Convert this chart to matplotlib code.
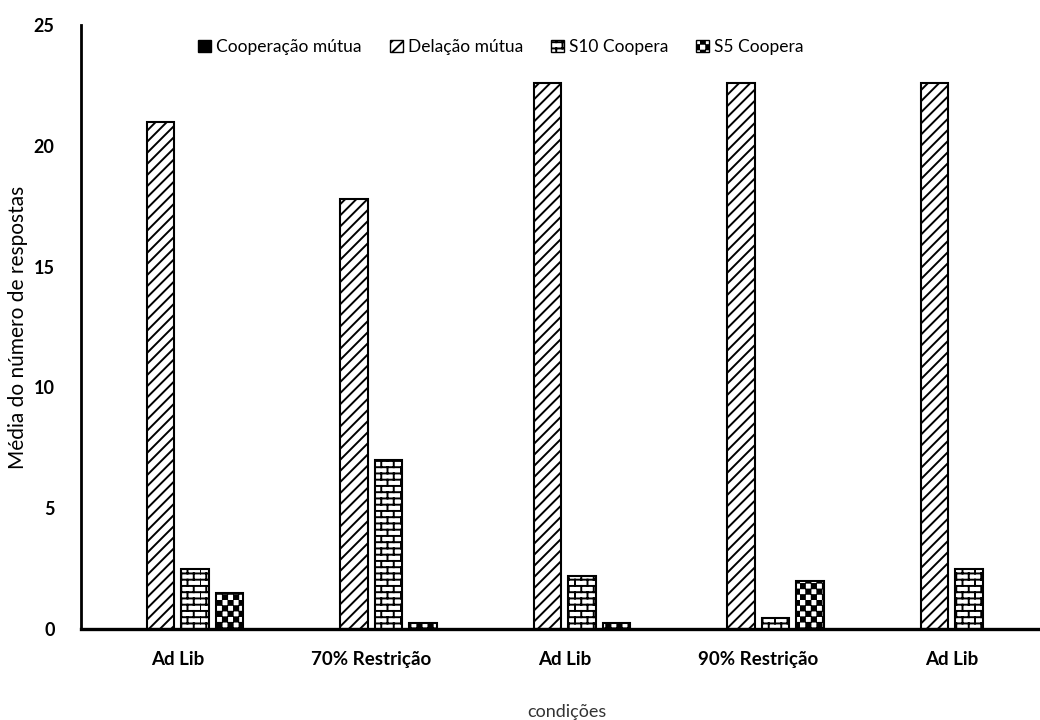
import warnings
import numpy as np
import matplotlib
matplotlib.use("Agg")
import matplotlib.pyplot as plt
from matplotlib import hatch as mhatch
from matplotlib.path import Path
from matplotlib.patches import Patch

warnings.filterwarnings("ignore")

# ---- data -------------------------------------------------------------
conditions = ["Ad Lib", "70% Restrição", "Ad Lib", "90% Restrição", "Ad Lib"]
series_names = ["Cooperação mútua", "Delação mútua", "S10 Coopera", "S5 Coopera"]
cooperacao_mutua = [0, 0, 0, 0, 0]
delacao_mutua = [21.0, 17.8, 22.6, 22.6, 22.6]
s10_coopera = [2.5, 7.0, 2.2, 0.45, 2.5]
s5_coopera = [1.5, 0.25, 0.25, 2.0, 0]
y_ticks = [0, 5, 10, 15, 20, 25]


# ---- custom hatch patterns: bricks ('b') and checkerboard ('c') --------
class BrickHatch(mhatch.HatchPatternBase):
    def __init__(self, hatch, density):
        self.n = int(hatch.count('b') * density * 4 / 3)
        n = self.n
        rows = 2 * n
        self.num_vertices = (rows * 2 + rows * n * 2 + n * 2) if n else 0

    def set_vertices_and_codes(self, vertices, codes):
        n = self.n
        rows = 2 * n
        d = 0.25
        v = []
        for k in range(rows):
            y = (k + d) / rows
            v += [(0.0, y), (1.0, y)]
        for k in range(rows):
            y0 = (k + d) / rows
            y1 = min((k + 1 + d) / rows, 1.0)
            for j in range(n):
                xx = (j + 0.5 * (k % 2)) / n
                v += [(xx, y0), (xx, y1)]
        for j in range(n):
            xx = (j + 0.5 * ((rows - 1) % 2)) / n
            v += [(xx, 0.0), (xx, d / rows)]
        vertices[:] = np.array(v)
        c = np.empty(len(v), dtype=Path.code_type)
        c[0::2] = Path.MOVETO
        c[1::2] = Path.LINETO
        codes[:] = c


class CheckerHatch(mhatch.HatchPatternBase):
    def __init__(self, hatch, density):
        self.m = int(hatch.count('c') * density * 1.5)
        m = self.m
        self.num_vertices = (2 * m) * m * 5 if m else 0

    def set_vertices_and_codes(self, vertices, codes):
        m = self.m
        s = 1.0 / (2 * m)
        g = 0.12 * s
        v, c = [], []
        for i in range(2 * m):
            for j in range(2 * m):
                if (i + j) % 2 == 0:
                    x0, y0 = j * s + g, i * s + g
                    w = s - 2 * g
                    v += [(x0, y0), (x0 + w, y0), (x0 + w, y0 + w),
                          (x0, y0 + w), (x0, y0)]
                    c += [Path.MOVETO, Path.LINETO, Path.LINETO,
                          Path.LINETO, Path.CLOSEPOLY]
        vertices[:] = np.array(v)
        codes[:] = np.array(c, dtype=Path.code_type)


mhatch._hatch_types.extend([BrickHatch, CheckerHatch])

plt.rcParams['font.family'] = ['Lato', 'DejaVu Sans']
plt.rcParams['hatch.linewidth'] = 1.4
plt.rcParams['hatch.color'] = 'black'

# ---- figure -----------------------------------------------------------
fig = plt.figure(figsize=(10.4, 7.2), dpi=100)
ax = fig.add_axes([81 / 1040, 91 / 720, 967.5 / 1040, 604 / 720])

x = np.arange(len(conditions))
step = 0.178
width = 0.142
series = [cooperacao_mutua, delacao_mutua, s10_coopera, s5_coopera]
styles = [
    dict(facecolor='black', hatch=None),
    dict(facecolor='white', hatch='///'),
    dict(facecolor='white', hatch='b'),
    dict(facecolor='white', hatch='c'),
]
for i, (vals, st) in enumerate(zip(series, styles)):
    offs = (i - 1.5) * step
    heights = np.array(vals, dtype=float)
    mask = heights > 0
    ax.bar(x[mask] + offs, heights[mask], width=width,
           facecolor=st['facecolor'], hatch=st['hatch'],
           edgecolor='black', linewidth=1.5, zorder=2)

ax.set_xlim(-0.5, len(conditions) - 0.5)
ax.set_ylim(0, 25)
ax.set_yticks(y_ticks)
ax.set_xticks(x)
ax.set_xticklabels(conditions, fontweight='bold', fontsize=13.5)
ax.set_yticklabels([str(t) for t in y_ticks], fontweight='bold', fontsize=13)
ax.tick_params(axis='both', length=0)
ax.tick_params(axis='x', pad=16)
ax.tick_params(axis='y', pad=19)

for side in ['top', 'right']:
    ax.spines[side].set_visible(False)
ax.spines['left'].set_linewidth(2.0)
ax.spines['bottom'].set_linewidth(2.4)
ax.spines['left'].set_zorder(3)
ax.spines['bottom'].set_zorder(3)

ax.set_ylabel("Média do número de respostas", fontsize=15)
ax.yaxis.set_label_coords(-53 / 967.5, 0.5)
ax.set_xlabel("condições", fontsize=13, color='#333333')
ax.xaxis.set_label_coords((567 - 81) / 967.5, -0.125)

handles = [Patch(facecolor=st['facecolor'], hatch=st['hatch'],
                 edgecolor='black', linewidth=1.0)
           for st in styles]
fig.legend(handles, series_names, loc='center left',
           bbox_to_anchor=(198 / 1040, 1 - 47 / 720), ncol=4, frameon=False,
           fontsize=12.5, handlelength=0.75, handleheight=0.75,
           handletextpad=0.3, columnspacing=1.6, borderaxespad=0,
           borderpad=0)

fig.savefig("out.png", dpi=100)
